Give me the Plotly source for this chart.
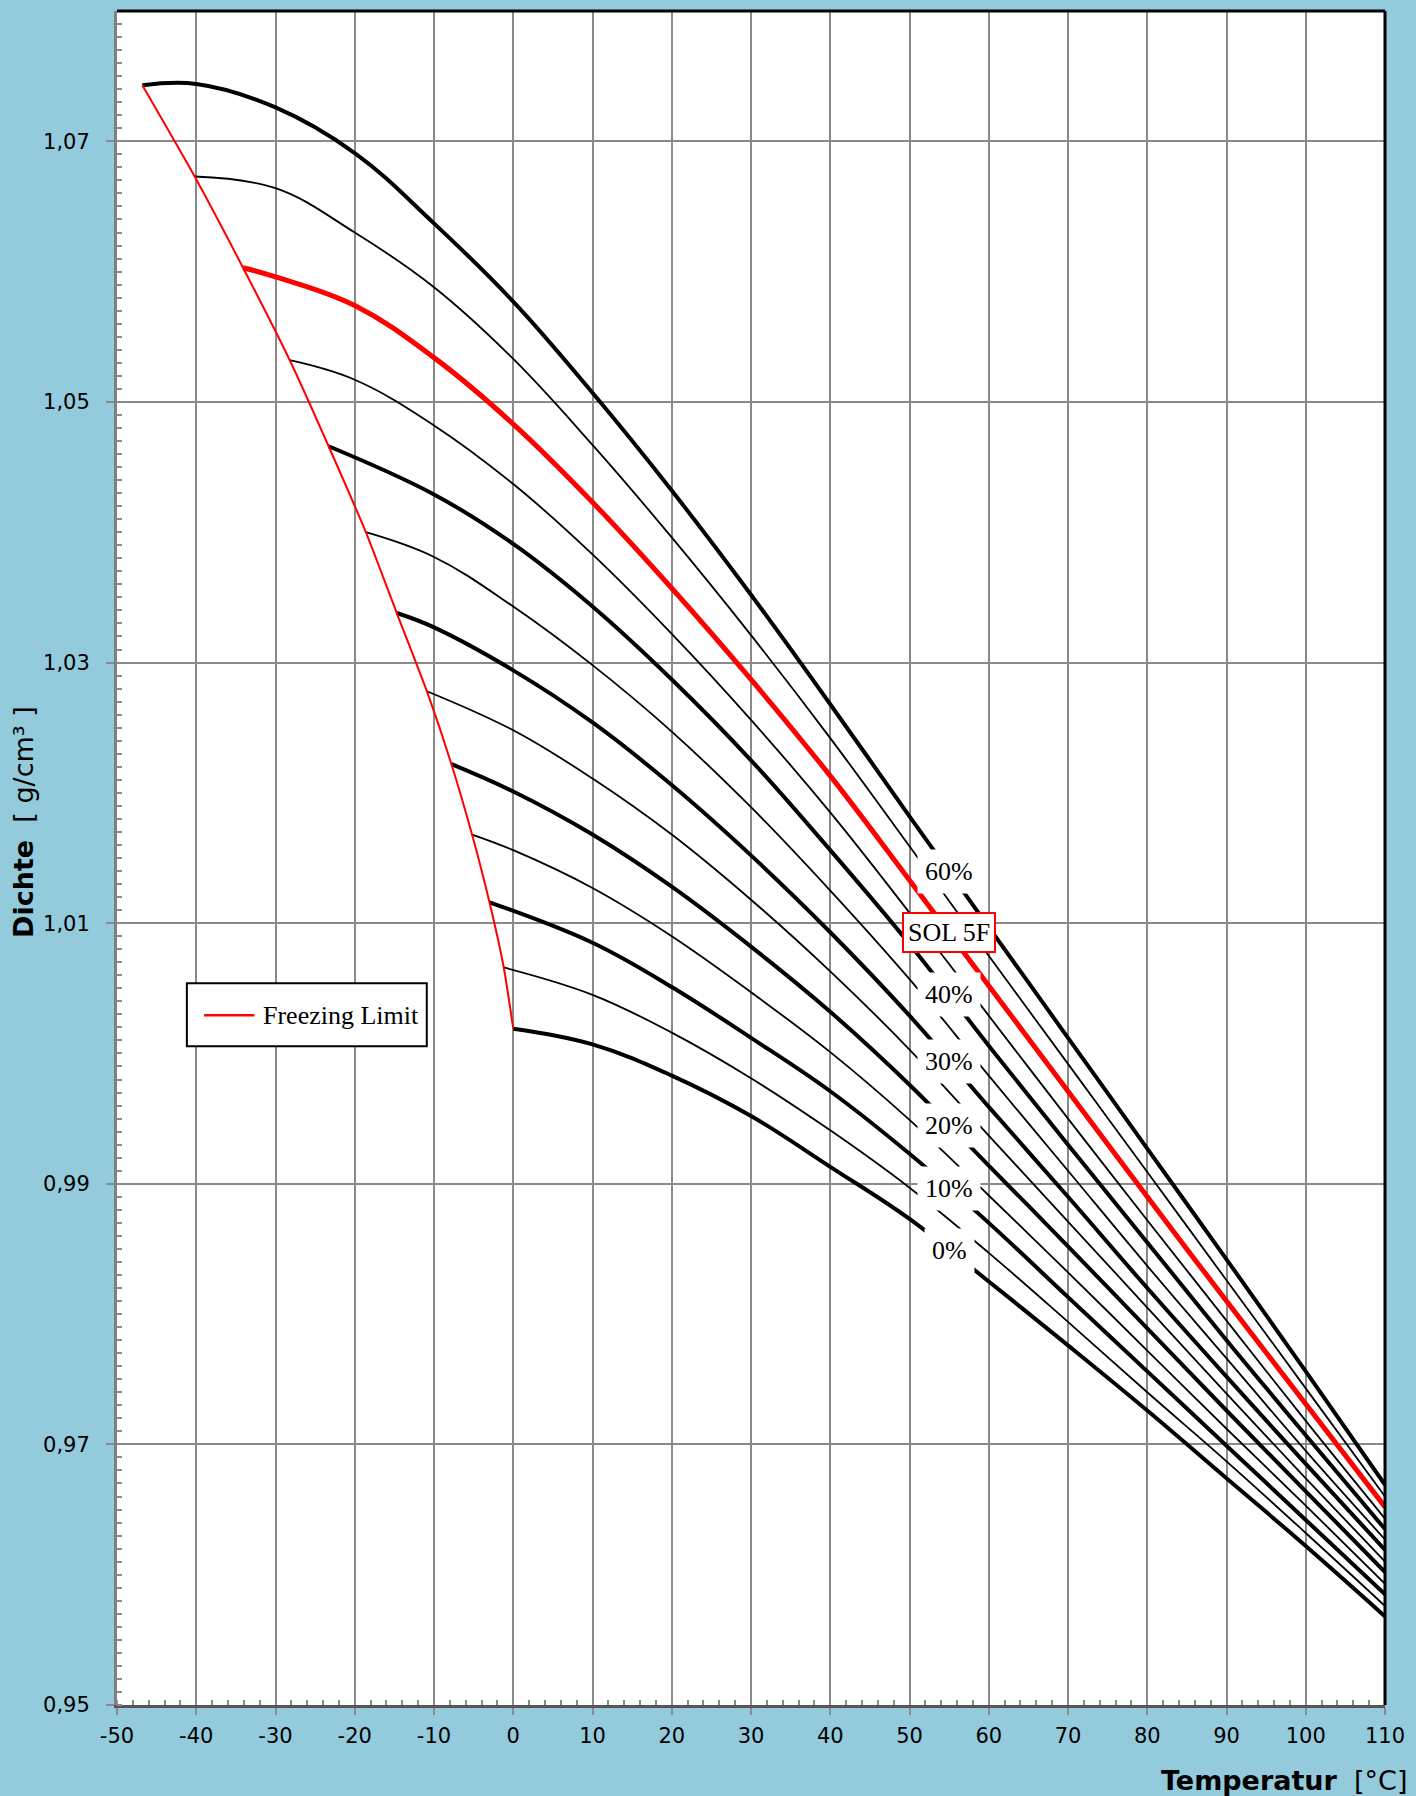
import numpy as np
import plotly.graph_objects as go

# ---------------- data ----------------
temps_grid = [-40, -30, -20, -10, 0, 10, 20, 30, 40, 50, 60, 70, 80, 90, 100, 110]

concentrations = [60, 55, 50, 45, 40, 35, 30, 25, 20, 15, 10, 5, 0]
freeze_T = [-46.8, -40.2, -34.1, -28.2, -23.3, -18.6, -14.7, -10.9, -7.8, -5.2, -3.0, -1.2, 0.0]
freeze_rho = [1.0743, 1.0673, 1.0603, 1.0532, 1.0466, 1.0400, 1.0338, 1.0278, 1.0222, 1.0168, 1.0116, 1.0066, 1.0019]

# density values at the last N grid temperatures (ending at 110 °C)
rho_60 = [1.0744, 1.0726, 1.0691, 1.0637, 1.0577, 1.0507, 1.0432, 1.0352, 1.0268, 1.0182, 1.0097, 1.0012, 0.9927, 0.9842, 0.9756, 0.9669]
rho_55 = [1.0664, 1.0630, 1.0588, 1.0533, 1.0467, 1.0396, 1.0321, 1.0242, 1.0159, 1.0075, 0.9992, 0.9909, 0.9826, 0.9743, 0.9660]
rho_50 = [1.0596, 1.0574, 1.0534, 1.0483, 1.0423, 1.0357, 1.0287, 1.0213, 1.0133, 1.0052, 0.9971, 0.9890, 0.9810, 0.9731, 0.9652]
rho_45 = [1.0517, 1.0482, 1.0437, 1.0383, 1.0322, 1.0256, 1.0185, 1.0108, 1.0029, 0.9950, 0.9872, 0.9795, 0.9718, 0.9643]
rho_40 = [1.0429, 1.0391, 1.0343, 1.0287, 1.0225, 1.0156, 1.0084, 1.0006, 0.9930, 0.9855, 0.9780, 0.9707, 0.9635]
rho_35 = [1.0381, 1.0343, 1.0298, 1.0247, 1.0189, 1.0125, 1.0057, 0.9983, 0.9910, 0.9837, 0.9766, 0.9695, 0.9627]
rho_30 = [1.0327, 1.0294, 1.0254, 1.0206, 1.0152, 1.0093, 1.0029, 0.9959, 0.9890, 0.9820, 0.9752, 0.9685, 0.9619]
rho_25 = [1.0248, 1.0211, 1.0168, 1.0118, 1.0063, 1.0003, 0.9937, 0.9871, 0.9805, 0.9739, 0.9674, 0.9610]
rho_20 = [1.0201, 1.0168, 1.0128, 1.0082, 1.0032, 0.9976, 0.9914, 0.9852, 0.9789, 0.9726, 0.9664, 0.9602]
rho_15 = [1.0156, 1.0127, 1.0090, 1.0047, 1.0001, 0.9949, 0.9891, 0.9832, 0.9772, 0.9712, 0.9653, 0.9593]
rho_10 = [1.0085, 1.0051, 1.0012, 0.9971, 0.9923, 0.9870, 0.9813, 0.9756, 0.9699, 0.9642, 0.9585]
rho_5 = [1.0045, 1.0016, 0.9981, 0.9941, 0.9897, 0.9847, 0.9794, 0.9740, 0.9687, 0.9632, 0.9576]
rho_0 = [1.0007, 0.9983, 0.9952, 0.9913, 0.9873, 0.9825, 0.9776, 0.9726, 0.9674, 0.9622, 0.9568]

curves = [rho_60, rho_55, rho_50, rho_45, rho_40, rho_35, rho_30,
          rho_25, rho_20, rho_15, rho_10, rho_5, rho_0]

label_texts = {60: "60%", 50: "SOL 5F", 40: "40%", 30: "30%", 20: "20%", 10: "10%", 0: "0%"}
label_T = 55.0
legend_text = "Freezing Limit"

x_ticks = [-50, -40, -30, -20, -10, 0, 10, 20, 30, 40, 50, 60, 70, 80, 90, 100, 110]
y_ticks = [0.95, 0.97, 0.99, 1.01, 1.03, 1.05, 1.07]

# ---------------- figure ----------------
BG = "#93CBDC"
SERIF = "Liberation Serif, Times New Roman, serif"
SANS = "DejaVu Sans, Verdana, sans-serif"
fig = go.Figure()

curve_xy = {}
for c, fT, fR, vals in zip(concentrations, freeze_T, freeze_rho, curves):
    xs = [fT] + temps_grid[-len(vals):]
    ys = [fR] + vals
    curve_xy[c] = (xs, ys)
    if c == 50:
        color, width = "#FF0000", 5
    elif c % 10 == 0:
        color, width = "#000000", 4
    else:
        color, width = "#000000", 1.8
    fig.add_trace(go.Scatter(x=xs, y=ys, mode="lines",
                             line=dict(color=color, width=width, shape="spline", smoothing=1.1),
                             showlegend=False, hoverinfo="skip"))

fig.add_trace(go.Scatter(x=freeze_T, y=freeze_rho, mode="lines", name=legend_text,
                         line=dict(color="#FF0000", width=2, shape="spline", smoothing=0.6),
                         showlegend=False, hoverinfo="skip"))

annotations = []
for c, txt in label_texts.items():
    xs, ys = curve_xy[c]
    yv = float(np.interp(label_T, xs, ys))
    if c == 50:
        annotations.append(dict(x=label_T, y=yv, xref="x", yref="y", text=txt, showarrow=False,
                                font=dict(family=SERIF, size=26, color="black"),
                                bgcolor="white", bordercolor="#FF0000", borderwidth=2, borderpad=4))
    else:
        annotations.append(dict(x=label_T, y=yv, xref="x", yref="y", text=txt, showarrow=False,
                                font=dict(family=SERIF, size=26, color="black"),
                                bgcolor="white", borderpad=7))

# axis titles
annotations.append(dict(x=-0.0737, y=0.521, xref="paper", yref="paper", textangle=-90,
                        text="<b>Dichte</b>  [ g/cm³ ]", showarrow=False,
                        font=dict(family=SANS, size=27, color="black"),
                        xanchor="center", yanchor="middle"))
annotations.append(dict(x=1.0195, y=-0.0445, xref="paper", yref="paper",
                        text="<b>Temperatur</b>  [°C]", showarrow=False,
                        font=dict(family=SANS, size=27, color="black"),
                        xanchor="right", yanchor="middle"))

# legend (drawn as box + sample line + text)
annotations.append(dict(x=0.1135, y=0.4071, xref="paper", yref="paper", text=legend_text,
                        showarrow=False, xanchor="left", yanchor="middle",
                        font=dict(family=SERIF, size=26, color="black")))

shapes = [
    dict(type="rect", xref="paper", yref="paper", x0=0.0551, x1=0.2443, y0=0.3888, y1=0.4260,
         line=dict(color="black", width=2), fillcolor="white", layer="above"),
    dict(type="line", xref="paper", yref="paper", x0=0.0687, x1=0.1083, y0=0.4071, y1=0.4071,
         line=dict(color="#FF0000", width=2.5), layer="above"),
    dict(type="line", xref="paper", yref="paper", x0=0, x1=1, y0=1, y1=1,
         line=dict(color="black", width=3)),
    dict(type="line", xref="paper", yref="paper", x0=1, x1=1, y0=0, y1=1,
         line=dict(color="black", width=3)),
]

tickfont = dict(family=SANS, size=21, color="black")

fig.update_layout(
    width=1416, height=1796,
    margin=dict(l=117, r=27, t=11, b=91),
    paper_bgcolor=BG, plot_bgcolor="white",
    separators=", ",
    annotations=annotations,
    shapes=shapes,
    showlegend=False,
)

fig.update_xaxes(range=[-50, 110], tickvals=x_ticks, ticktext=[str(v) for v in x_ticks],
                 showgrid=True, gridcolor="#8A8A8A", gridwidth=2,
                 showline=True, linecolor="#555555", linewidth=3,
                 ticks="outside", ticklen=7, tickcolor="#8A8A8A", tickwidth=2,
                 tickfont=tickfont, ticklabelstandoff=3, zeroline=False,
                 minor=dict(dtick=2, ticks="inside", ticklen=5, tickcolor="#8A8A8A", tickwidth=1.5, showgrid=False))
fig.update_yaxes(range=[0.95, 1.08], tickvals=y_ticks, tickformat=".2f",
                 showgrid=True, gridcolor="#8A8A8A", gridwidth=2,
                 showline=True, linecolor="#808080", linewidth=3,
                 ticks="outside", ticklen=8, tickcolor="#8A8A8A", tickwidth=2,
                 tickfont=tickfont, ticklabelstandoff=12, zeroline=False,
                 minor=dict(dtick=0.001, tick0=0.95, ticks="inside", ticklen=5, tickcolor="#8A8A8A", tickwidth=1.5, showgrid=False))

fig.write_html("out.html", config={"displayModeBar": False},
               post_script="document.body.style.margin='0';document.body.style.overflow='hidden';")
